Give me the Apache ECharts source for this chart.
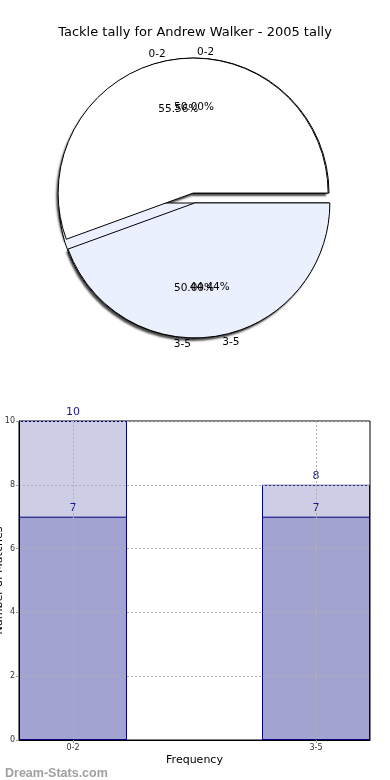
<!DOCTYPE html>
<html><head><meta charset="utf-8">
<script src="https://cdn.jsdelivr.net/npm/echarts@6/dist/echarts.min.js"></script>
<style>html,body{margin:0;padding:0;background:#fff}#c{width:390px;height:780px}</style>
</head><body><div id="c"></div>
<script>
const chartTitle = 'Tackle tally for Andrew Walker - 2005 tally';
const categories = ['0-2', '3-5'];
const totalValues = [10, 8];
const otherValues = [7, 7];
const xAxisName = 'Frequency';
const yAxisName = 'Number of Matches';
const watermark = 'Dream-Stats.com';

const FONT = 'DejaVu Sans';
const pieColors = ['#ffffff', '#eaf0fd'];
const PIE_CENTER = [194, 198];
const PIE_R = 135;
const HALF_BAR = 0.2222;

function pieData(values, mode) {
  return categories.map((c, i) => ({
    name: c, value: values[i], selected: true,
    itemStyle: mode === 'fill' ? { color: pieColors[i] } : mode === 'shadow' ? { color: '#fff' } : { color: 'rgba(0,0,0,0)' }
  }));
}
function pieBase(values, z, mode) {
  return {
    type: 'pie', center: PIE_CENTER, radius: PIE_R, startAngle: 0, clockwise: false,
    selectedMode: 'multiple', selectedOffset: 5, avoidLabelOverlap: false, z: z,
    animation: false, emphasis: { disabled: true }, silent: true,
    labelLayout: { hideOverlap: false },
    data: pieData(values, mode)
  };
}
function pieShadow(values, z) {
  return Object.assign(pieBase(values, z, 'shadow'), {
    itemStyle: { borderWidth: 0, shadowColor: 'rgba(0,0,0,0.7)', shadowBlur: 2, shadowOffsetX: -2, shadowOffsetY: 3 },
    label: { show: false }, labelLine: { show: false }
  });
}
function pieShape(values, z) {
  return Object.assign(pieBase(values, z, 'fill'), {
    itemStyle: { borderColor: '#000', borderWidth: 1 },
    label: { show: true, position: 'outside', formatter: '{b}', fontFamily: FONT, fontSize: 10.5, color: '#000', distanceToLabelLine: 3 },
    labelLine: { show: false, length: 6, length2: 0 }
  });
}
function pieText(values, z) {
  return Object.assign(pieBase(values, z, 'text'), {
    radius: [30, PIE_R],
    itemStyle: { borderWidth: 0 },
    label: { show: true, position: 'inside', formatter: p => p.percent.toFixed(2) + '%', fontFamily: FONT, fontSize: 10.5, color: '#000', textBorderWidth: 0 },
    labelLine: { show: false }
  });
}

const chart = echarts.init(document.getElementById('c'), null, { renderer: 'canvas' });
chart.setOption({
  animation: false,
  backgroundColor: '#fff',
  textStyle: { fontFamily: FONT },
  title: [
    { text: chartTitle, left: 'center', top: 21, textStyle: { fontFamily: FONT, fontSize: 13, fontWeight: 'normal', color: '#000' } },
    { text: watermark, left: 0, top: 762, textStyle: { fontFamily: 'Liberation Sans', fontSize: 12.5, fontWeight: 'bold', color: '#a0a0a0' } }
  ],
  grid: { left: 19, right: 20, top: 421, bottom: 40, show: true, borderColor: '#000', borderWidth: 1, outerBoundsMode: 'none', containLabel: false },
  xAxis: {
    type: 'value', min: -HALF_BAR, max: categories.length - 1 + HALF_BAR, z: 5,
    name: xAxisName, nameLocation: 'middle', nameGap: 15,
    nameTextStyle: { fontFamily: FONT, fontSize: 11, color: '#000', verticalAlign: 'top' },
    axisLine: { show: true, onZero: false, lineStyle: { color: '#000' } },
    axisTick: { show: true, customValues: categories.map((c, i) => i), length: 3, lineStyle: { color: '#999' } },
    axisLabel: { customValues: categories.map((c, i) => i), formatter: v => categories[Math.round(v)], fontFamily: FONT, fontSize: 8, color: '#333', margin: 4 },
    splitLine: { show: true, lineStyle: { type: [2, 2], color: '#b0b0b0' } }
  },
  yAxis: {
    type: 'value', min: 0, max: 10, interval: 2, z: 5,
    name: yAxisName, nameLocation: 'middle', nameGap: 14.5, nameMoveOverlap: false, nameRotate: 90,
    nameTextStyle: { fontFamily: FONT, fontSize: 11, color: '#000', verticalAlign: 'bottom' },
    axisLine: { show: true, onZero: false, lineStyle: { color: '#000' } },
    axisTick: { show: true, length: 3, lineStyle: { color: '#999' } },
    axisLabel: { fontFamily: FONT, fontSize: 8, color: '#333', margin: 4 },
    splitLine: { show: true, lineStyle: { type: [2, 2], color: '#b0b0b0' } }
  },
  series: [
    pieShadow(totalValues, 1),
    pieShape(otherValues, 2),
    pieShape(totalValues, 3),
    pieText(otherValues, 4),
    pieText(totalValues, 5),
    {
      type: 'bar', data: totalValues.map((v, i) => [i, v]), barWidth: 108, barGap: '-100%', z: 2,
      itemStyle: { color: '#cdcde6', borderColor: '#000080', borderWidth: 1 },
      label: { show: true, position: 'top', distance: 3, fontFamily: FONT, fontSize: 11, color: '#1a1a8c' },
      emphasis: { disabled: true }
    },
    {
      type: 'bar', data: otherValues.map((v, i) => [i, v]), barWidth: 108, barGap: '-100%', z: 3,
      itemStyle: { color: '#a3a3d1', borderColor: '#000080', borderWidth: 1 },
      label: { show: true, position: 'top', distance: 3, fontFamily: FONT, fontSize: 11, color: '#1a1a8c' },
      emphasis: { disabled: true }
    }
  ]
});
</script></body></html>
